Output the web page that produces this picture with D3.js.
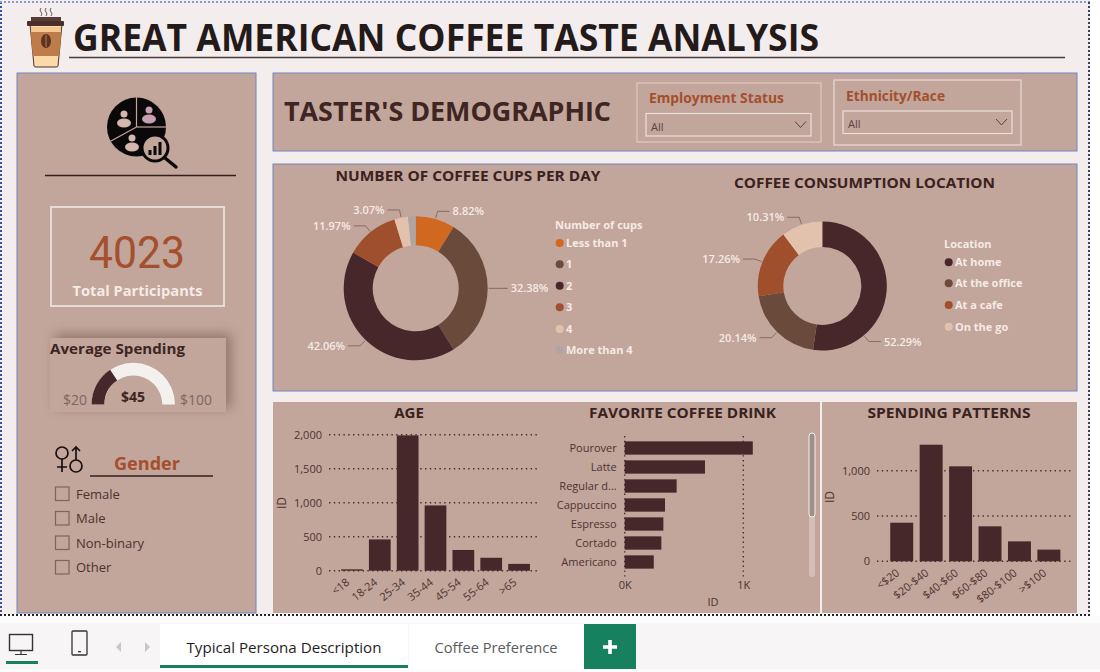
<!DOCTYPE html>
<html>
<head>
<meta charset="utf-8">
<title>Great American Coffee Taste Analysis</title>
<script src="https://cdn.jsdelivr.net/npm/d3@7"></script>
<style>
  html, body { margin: 0; padding: 0; background: #fff; overflow: hidden; }
  svg { display: block; font-family: "Open Sans", "Noto Sans", sans-serif; }
</style>
</head>
<body>
<svg id="chart" width="1100" height="672"></svg>
<script>
// Donut data
const cupLabels = ['Less than 1', '1', '2', '3', '4', 'More than 4'];
const cupValues = [8.82, 32.38, 42.06, 11.97, 3.07, 1.70];
const locationLabels = ['At home', 'At the office', 'At a cafe', 'On the go'];
const locationValues = [52.29, 20.14, 17.26, 10.31];

// Bar data
const ageLabels = ['<18', '18-24', '25-34', '35-44', '45-54', '55-64', '>65'];
const ageValues = [20, 460, 1990, 960, 305, 190, 100];
const ageTicks = [0, 500, 1000, 1500, 2000];
const drinkLabels = ['Pourover', 'Latte', 'Regular d...', 'Cappuccino', 'Espresso', 'Cortado', 'Americano'];
const drinkValues = [1080, 677, 438, 340, 326, 309, 245];
const spendLabels = ['<$20', '$20-$40', '$40-$60', '$60-$80', '$80-$100', '>$100'];
const spendValues = [426, 1287, 1048, 386, 220, 129];
const spendTicks = [0, 500, 1000];

// Single numbers and filters
const totalParticipants = 4023;
const spendMin = 20, spendMax = 100, spendAvg = 45;
const genderOptions = ['Female', 'Male', 'Non-binary', 'Other'];

// Colours
const PANEL = '#c2a59b', EDGE = '#7385bf', DARK = '#46282a', INK = '#3d2522';
const RUST = '#a44f2d', SOFT = '#f5ebe6', AXIS = '#4d3431', GREEN = '#17805f';
const cupColors = ['#d0691f', '#6a4a3b', '#47272a', '#9f4f2c', '#e3c2ad', '#aea6a3'];
const locationColors = ['#47272a', '#6a4a3b', '#9f4f2c', '#e3c2ad'];

// Slices thinner than this get no data label
const MIN_LABEL = 2;

const svg = d3.select('#chart');

// Text helper, width squeezes the string to the measured width of the original
function label(parent, x, y, str, o = {}) {
  const t = parent.append('text')
    .attr('x', x).attr('y', y)
    .attr('font-size', o.size || 12)
    .attr('font-weight', o.weight || 400)
    .attr('fill', o.fill || INK)
    .attr('text-anchor', o.anchor || 'start')
    .text(str);
  if (o.family) t.attr('font-family', o.family);
  if (o.width) t.attr('textLength', o.width).attr('lengthAdjust', 'spacingAndGlyphs');
  return t;
}

function box(x, y, w, h, fill, stroke, sw) {
  return svg.append('rect').attr('x', x).attr('y', y).attr('width', w).attr('height', h)
    .attr('fill', fill).attr('stroke', stroke || 'none').attr('stroke-width', sw || 1);
}

function dotted(x1, y1, x2, y2, color) {
  svg.append('line').attr('x1', x1).attr('y1', y1).attr('x2', x2).attr('y2', y2)
    .attr('stroke', color).attr('stroke-width', 2).attr('stroke-dasharray', '2 2');
}

// Page, panels and frame
function drawFrame() {
  box(0, 0, 1090, 614, '#f3eded');
  box(17, 73, 239, 540, PANEL, EDGE);
  box(273, 73, 804, 78, PANEL, EDGE);
  box(273, 164, 804, 227, PANEL, EDGE);
  box(273, 402, 547, 211, PANEL);
  box(822, 402, 255, 211, PANEL);
  dotted(1, 2, 1, 614, '#3a4f9a');
  dotted(0, 2, 1090, 2, '#8d97c4');
  dotted(1089, 2, 1089, 614, '#33415f');
  dotted(0, 615, 1090, 615, '#222');
}

function drawHeader() {
  label(svg, 73, 51, 'GREAT AMERICAN COFFEE TASTE ANALYSIS', { size: 38, weight: 700, fill: '#241a19', width: 746 });
  svg.append('line').attr('x1', 69).attr('x2', 1065).attr('y1', 57.5).attr('y2', 57.5)
    .attr('stroke', '#4a3d3b').attr('stroke-width', 1.5);

  // Takeaway cup
  const cup = svg.append('g');
  cup.append('path').attr('d', 'M30 24 L62 24 L58 66 Q58 67 56 67 L36 67 Q34 67 34 66 Z')
    .attr('fill', '#fcd9a8').attr('stroke', '#4a3530').attr('stroke-width', 1);
  cup.append('path').attr('d', 'M30.5 32 L61.5 32 L59.2 56 L32.8 56 Z').attr('fill', '#bd7c4a');
  cup.append('path').attr('d', 'M31 27 L61 27 L60.6 32 L31.4 32 Z').attr('fill', '#f6c88f');
  cup.append('rect').attr('x', 31).attr('y', 17).attr('width', 30).attr('height', 7).attr('fill', '#5a3c36');
  cup.append('rect').attr('x', 27).attr('y', 21).attr('width', 37).attr('height', 5).attr('rx', 1).attr('fill', '#4a2f2b');
  cup.append('ellipse').attr('cx', 46).attr('cy', 41).attr('rx', 5).attr('ry', 7).attr('fill', '#5a3324');
  cup.append('line').attr('x1', 46).attr('x2', 46).attr('y1', 35).attr('y2', 47).attr('stroke', '#bd7c4a');
  [41, 46, 51].forEach(x => {
    cup.append('path').attr('d', `M${x} 8 q-2 2 0 4 q2 2 0 4`).attr('fill', 'none')
      .attr('stroke', '#5a4a46').attr('stroke-width', 0.9);
  });
}

// Icons for the left column
function drawPeopleIcon() {
  const g = svg.append('g');
  g.append('circle').attr('cx', 136.5).attr('cy', 127).attr('r', 29.5).attr('fill', '#0b0809');
  [[136.5, 127, 136.5, 96], [136.5, 127, 167, 127], [136.5, 127, 111, 141]].forEach(l => {
    g.append('line').attr('x1', l[0]).attr('y1', l[1]).attr('x2', l[2]).attr('y2', l[3])
      .attr('stroke', PANEL).attr('stroke-width', 1.2);
  });
  [[124, 114, '#d4b7ad'], [149, 110, '#c79fb0'], [132, 138, '#d4b7ad']].forEach(p => {
    g.append('circle').attr('cx', p[0]).attr('cy', p[1]).attr('r', 3.5).attr('fill', p[2]);
    g.append('ellipse').attr('cx', p[0]).attr('cy', p[1] + 9).attr('rx', 7).attr('ry', 4.5).attr('fill', p[2]);
  });
  g.append('circle').attr('cx', 155).attr('cy', 148).attr('r', 13).attr('fill', PANEL)
    .attr('stroke', '#0b0809').attr('stroke-width', 3);
  g.append('line').attr('x1', 165).attr('y1', 158).attr('x2', 176).attr('y2', 167)
    .attr('stroke', '#0b0809').attr('stroke-width', 3.5).attr('stroke-linecap', 'round');
  [[150, 150, 5], [155, 146, 9], [160, 142, 13]].forEach(b => {
    g.append('rect').attr('x', b[0] - 1.5).attr('y', b[1]).attr('width', 3).attr('height', b[2]).attr('fill', '#0b0809');
  });
  svg.append('line').attr('x1', 45).attr('x2', 236).attr('y1', 175.5).attr('y2', 175.5)
    .attr('stroke', '#33201d').attr('stroke-width', 1.4);
}

function drawKpi() {
  box(51, 207, 173, 99, 'none', '#e7dbd6', 2);
  label(svg, 137, 268, d3.format('d')(totalParticipants), { size: 44, fill: RUST, anchor: 'middle', family: 'Roboto', width: 96 });
  label(svg, 137.5, 296, 'Total Participants', { size: 14.5, weight: 700, fill: SOFT, anchor: 'middle', width: 130 });
}

function drawGauge() {
  const defs = svg.append('defs');
  defs.append('filter').attr('id', 'shade').attr('x', '-25%').attr('y', '-50%').attr('width', '150%').attr('height', '200%')
    .append('feGaussianBlur').attr('stdDeviation', 6);
  box(55, 334, 176, 74, '#7f6058').attr('filter', 'url(#shade)').attr('opacity', 0.7);
  box(50, 338, 176, 74, PANEL);
  label(svg, 50, 354, 'Average Spending', { size: 15, weight: 700, width: 135 });

  const angle = d3.scaleLinear().domain([spendMin, spendMax]).range([-Math.PI / 2, Math.PI / 2]);
  const arc = d3.arc().innerRadius(29).outerRadius(41.7);
  const g = svg.append('g').attr('transform', 'translate(133.3,404.5)');
  g.append('path').attr('d', arc({ startAngle: angle(spendMin), endAngle: angle(spendMax) })).attr('fill', '#f4f0ed');
  g.append('path').attr('d', arc({ startAngle: angle(spendMin), endAngle: angle(spendAvg) })).attr('fill', DARK);

  label(svg, 133, 402, '$' + spendAvg, { size: 14, weight: 700, anchor: 'middle' });
  label(svg, 87, 405, '$' + spendMin, { size: 14, fill: '#7c6860', anchor: 'end' });
  label(svg, 180, 405, '$' + spendMax, { size: 14, fill: '#7c6860' });
}

function drawGender() {
  const g = svg.append('g').attr('fill', 'none').attr('stroke', '#17100f').attr('stroke-width', 1.7);
  g.append('circle').attr('cx', 62).attr('cy', 453).attr('r', 6);
  g.append('path').attr('d', 'M62 459 V472 M57 467 H67');
  g.append('circle').attr('cx', 76).attr('cy', 466).attr('r', 6);
  g.append('path').attr('d', 'M76 460 V447 M72 451 L76 447 L80 451');

  label(svg, 147, 470, 'Gender', { size: 17, weight: 700, fill: RUST, anchor: 'middle', width: 66 });
  svg.append('line').attr('x1', 90).attr('x2', 213).attr('y1', 476).attr('y2', 476)
    .attr('stroke', '#33201d').attr('stroke-width', 1.4);

  const rows = d3.scalePoint().domain(genderOptions).range([494, 567.5]);
  genderOptions.forEach(name => {
    box(55.5, rows(name) - 7, 13.5, 13.5, 'none', '#7d655d', 1.2);
    label(svg, 76, rows(name) + 4.5, name, { size: 13, fill: '#4b3330' });
  });
}

function dropdown(x, y, w, title, titleY) {
  label(svg, x + 3, titleY, title, { size: 14, weight: 700, fill: RUST, width: title.length > 15 ? 135 : 99 });
  box(x, y, w, 22.5, 'none', '#ecdfda', 1.2);
  label(svg, x + 5, y + 17, 'All', { size: 11, fill: '#5a4440' });
  svg.append('path').attr('d', `M${x + w - 16} ${y + 8} l5.5 6 l5.5 -6`).attr('fill', 'none')
    .attr('stroke', '#5a4440').attr('stroke-width', 1);
}

function drawTopPanel() {
  label(svg, 284, 121, "TASTER'S DEMOGRAPHIC", { size: 27, weight: 700, fill: '#3f2622', width: 327 });
  box(637, 83, 184, 59, 'none', '#dcc7bf', 1.3);
  box(834, 80, 187, 65, 'none', '#e7d8d2', 1.3);
  dropdown(646, 113.5, 165, 'Employment Status', 103);
  dropdown(843, 111, 169, 'Ethnicity/Race', 101);
}

// Donut with leader lines. leaderAngles overrides where a leader leaves the ring
function drawDonut(cx, cy, outer, inner, names, values, colors, leaderAngles = {}) {
  const pie = d3.pie().value(d => d).sort(null);
  const arc = d3.arc().innerRadius(inner).outerRadius(outer);
  const g = svg.append('g').attr('transform', `translate(${cx},${cy})`);
  const slices = pie(values);

  g.selectAll('path.slice').data(slices).enter().append('path')
    .attr('class', 'slice')
    .attr('d', arc)
    .attr('fill', (d, i) => colors[i]);

  slices.forEach((d, i) => {
    if (values[i] < MIN_LABEL) return;
    const a = leaderAngles[i] !== undefined ? leaderAngles[i] * Math.PI / 180 : (d.startAngle + d.endAngle) / 2;
    const sx = Math.sin(a), sy = -Math.cos(a);
    const side = sx >= 0 ? 1 : -1;
    const x1 = sx * (outer + 1), y1 = sy * (outer + 1);
    const x2 = sx * (outer + 8), y2 = sy * (outer + 8);
    const x3 = x2 + side * 12;
    g.append('path').attr('d', `M${x1} ${y1} L${x2} ${y2} L${x3} ${y2}`)
      .attr('fill', 'none').attr('stroke', '#7f6660').attr('stroke-width', 0.9);
    label(g, x3 + side * 3, y2 + 4, d3.format('.2f')(values[i]) + '%', {
      size: 11, weight: 600, fill: SOFT, anchor: side > 0 ? 'start' : 'end'
    });
  });
}

function drawLegend(x, titleY, rowY, title, names, colors) {
  label(svg, x, titleY, title, { size: 11, weight: 700, fill: SOFT });
  names.forEach((name, i) => {
    svg.append('circle').attr('cx', x + 4.7).attr('cy', rowY[i]).attr('r', 4).attr('fill', colors[i]);
    label(svg, x + 11, rowY[i] + 4, name, { size: 11, weight: 700, fill: SOFT });
  });
}

function gridLine(sel) {
  sel.attr('stroke', '#4a2e2c').attr('stroke-width', 1.4).attr('stroke-dasharray', '1.4 3.4');
}

// Vertical bars with rotated category labels
function drawColumns(names, values, ticks, left, right, bandLeft, bandRight, y0, yMax, domainMax, yLabelX, yLabelY) {
  const x = d3.scaleBand().domain(names).range([bandLeft, bandRight]).paddingInner(0.22).paddingOuter(0.11);
  const y = d3.scaleLinear().domain([0, domainMax]).range([y0, yMax]);
  const g = svg.append('g');

  g.selectAll('line.grid').data(ticks).enter().append('line')
    .attr('class', 'grid').attr('x1', left).attr('x2', right)
    .attr('y1', d => y(d)).attr('y2', d => y(d))
    .call(gridLine);

  g.selectAll('rect.bar').data(values).enter().append('rect')
    .attr('class', 'bar')
    .attr('x', (d, i) => x(names[i]))
    .attr('width', x.bandwidth())
    .attr('y', d => y(d))
    .attr('height', d => y0 - y(d))
    .attr('fill', DARK);

  const yAxis = g.append('g').attr('transform', `translate(${left - 4},0)`)
    .call(d3.axisLeft(y).tickValues(ticks).tickSize(0).tickFormat(d3.format(',')));
  yAxis.select('.domain').remove();
  yAxis.selectAll('text').attr('font-size', 11).attr('fill', AXIS).attr('font-family', '"Open Sans"');

  const xAxis = g.append('g').attr('transform', `translate(0,${y0})`)
    .call(d3.axisBottom(x).tickSize(0));
  xAxis.select('.domain').remove();
  xAxis.selectAll('text')
    .attr('font-size', 11).attr('fill', AXIS).attr('font-family', '"Open Sans"')
    .attr('text-anchor', 'end')
    .attr('y', 0).attr('dy', '0.35em')
    .attr('transform', 'translate(-4,10) rotate(-38)');

  label(svg, 0, 0, 'ID', { size: 12, fill: AXIS, anchor: 'middle' })
    .attr('transform', `translate(${yLabelX},${yLabelY}) rotate(-90)`);
}

function drawDrinkBars() {
  const x = d3.scaleLinear().domain([0, 1000]).range([624.7, 743.3]);
  const y = d3.scaleBand().domain(drinkLabels).range([438.5, 571.5]).paddingInner(0.3).paddingOuter(0.15);
  const g = svg.append('g');

  g.selectAll('line.grid').data([0, 1000]).enter().append('line')
    .attr('class', 'grid').attr('x1', d => x(d)).attr('x2', d => x(d))
    .attr('y1', 436).attr('y2', 578).call(gridLine);

  g.selectAll('rect.bar').data(drinkValues).enter().append('rect')
    .attr('class', 'bar')
    .attr('x', x(0))
    .attr('y', (d, i) => y(drinkLabels[i]))
    .attr('width', d => x(d) - x(0))
    .attr('height', y.bandwidth())
    .attr('fill', DARK);

  const yAxis = g.append('g').attr('transform', `translate(${x(0) - 5},0)`)
    .call(d3.axisLeft(y).tickSize(0));
  yAxis.select('.domain').remove();
  yAxis.selectAll('text').attr('font-size', 11).attr('fill', AXIS).attr('font-family', '"Open Sans"');

  const xAxis = g.append('g').attr('transform', 'translate(0,578)')
    .call(d3.axisBottom(x).tickValues([0, 1000]).tickSize(0).tickFormat(d => (d / 1000) + 'K'));
  xAxis.select('.domain').remove();
  xAxis.selectAll('text').attr('font-size', 11).attr('fill', AXIS).attr('font-family', '"Open Sans"');

  label(svg, 713, 606, 'ID', { size: 11, fill: AXIS, anchor: 'middle' });

  // Scrollbar
  box(809, 433, 6, 144, '#d3bfb7').attr('rx', 3);
  box(809, 433, 6, 84, '#9c9088', '#f4eeea', 1).attr('rx', 3);
}

function drawTabs() {
  box(0, 616, 1100, 56, '#fdfcfc');
  box(0, 623, 1100, 46, '#f7f5f5');

  // Desktop and phone view icons
  box(9.5, 634.5, 23, 16, 'none', '#333', 1.4);
  svg.append('path').attr('d', 'M21 651 V654 M15 654.5 H27').attr('stroke', '#333').attr('stroke-width', 1.2);
  box(6, 661, 32, 3, GREEN);
  box(72, 631, 15, 24, 'none', '#333', 1.3).attr('rx', 1);
  box(78, 651, 3, 1.3, '#333');
  svg.append('path').attr('d', 'M121 642 l-5 5 l5 5 Z').attr('fill', '#c9c6c6');
  svg.append('path').attr('d', 'M145 642 l5 5 l-5 5 Z').attr('fill', '#c9c6c6');

  // Sheet tabs
  box(160, 624, 248, 45, '#fff');
  box(160, 665, 248, 3, GREEN);
  box(409, 624, 175, 45, '#fff');
  label(svg, 284, 653, 'Typical Persona Description', { size: 14.5, fill: '#1e1e1e', anchor: 'middle', width: 195 });
  label(svg, 496, 653, 'Coffee Preference', { size: 14.5, fill: '#5b5b5b', anchor: 'middle', width: 123 });
  box(584, 624, 52, 45, GREEN);
  svg.append('path').attr('d', 'M610 640 V654 M603 647 H617').attr('stroke', '#fff').attr('stroke-width', 3.6);
}

drawFrame();
drawHeader();
drawPeopleIcon();
drawKpi();
drawGauge();
drawGender();
drawTopPanel();

label(svg, 468, 181, 'NUMBER OF COFFEE CUPS PER DAY', { size: 14.5, weight: 700, fill: '#3a2220', anchor: 'middle', width: 265 });
drawDonut(415.7, 288.3, 72, 43, cupLabels, cupValues, cupColors);
drawLegend(555, 229, [243, 264.3, 285.7, 307.3, 329, 350], 'Number of cups', cupLabels, cupColors);

label(svg, 864.5, 188, 'COFFEE CONSUMPTION LOCATION', { size: 14.5, weight: 700, fill: '#3a2220', anchor: 'middle', width: 261 });
drawDonut(822.3, 286, 64.5, 39, locationLabels, locationValues, locationColors, { 0: 140 });
drawLegend(944, 248, [262.3, 283.3, 305, 326.7], 'Location', locationLabels, locationColors);

label(svg, 409, 418, 'AGE', { size: 15, weight: 700, fill: '#3a2220', anchor: 'middle' });
drawColumns(ageLabels, ageValues, ageTicks, 329, 539, 338, 533, 570.7, 434.7, 2000, 286, 503);

label(svg, 682.5, 418, 'FAVORITE COFFEE DRINK', { size: 15, weight: 700, fill: '#3a2220', anchor: 'middle', width: 187 });
drawDrinkBars();

label(svg, 949, 418, 'SPENDING PATTERNS', { size: 15, weight: 700, fill: '#3a2220', anchor: 'middle', width: 163 });
drawColumns(spendLabels, spendValues, spendTicks, 877, 1071.7, 887, 1063.6, 561.3, 470.7, 1000, 834, 497);

drawTabs();
</script>
</body>
</html>
